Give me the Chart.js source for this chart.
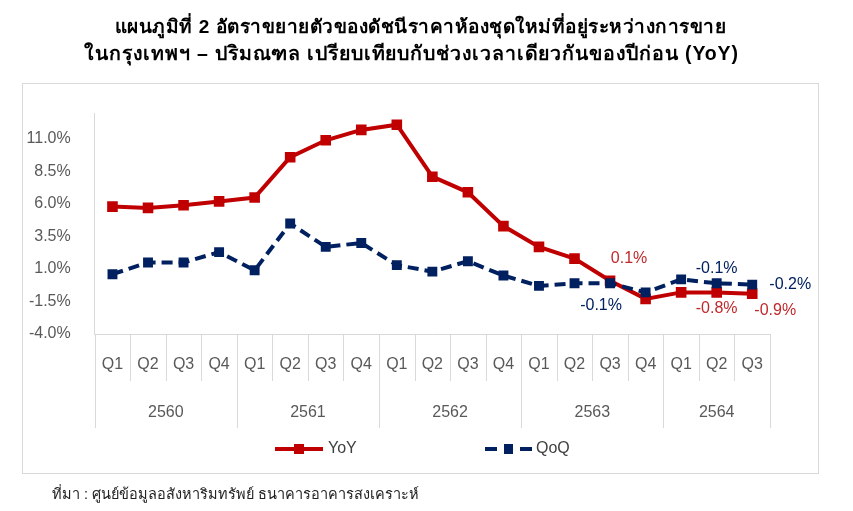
<!DOCTYPE html>
<html>
<head>
<meta charset="utf-8">
<script src="https://cdn.jsdelivr.net/npm/chart.js@4.4.1/dist/chart.umd.min.js"></script>
<style>
  html, body { margin: 0; padding: 0; background: #ffffff; }
  #wrap { position: relative; width: 853px; height: 511px; overflow: hidden; }
  #chartBox { position: absolute; left: 0; top: 0; width: 853px; height: 511px; }
  .tline { position: absolute; width: 853px; text-align: center; white-space: nowrap;
           font-family: "Liberation Sans", Arial, "Noto Sans", sans-serif; font-weight: bold;
           font-size: 19px; line-height: 26px; letter-spacing: 0.5px; color: #000; }
  #t1 { left: -6px; top: 14px; }
  #t2 { left: -15px; top: 40px; font-size: 19.5px; letter-spacing: 0.85px; }
  #source { position: absolute; left: 52px; top: 482px;
            font-family: "Liberation Sans", Arial, "Noto Sans", sans-serif;
            font-size: 14.5px; color: #222; }
</style>
</head>
<body>
<div id="wrap">
  <div id="chartBox"><canvas id="c"></canvas></div>
  <div id="t1" class="tline">แผนภูมิที่ 2 อัตราขยายตัวของดัชนีราคาห้องชุดใหม่ที่อยู่ระหว่างการขาย</div>
  <div id="t2" class="tline">ในกรุงเทพฯ – ปริมณฑล เปรียบเทียบกับช่วงเวลาเดียวกันของปีก่อน (YoY)</div>
  <div id="source">ที่มา : ศูนย์ข้อมูลอสังหาริมทรัพย์ ธนาคารอาคารสงเคราะห์</div>
</div>
<script>
const quarterLabels = ['Q1','Q2','Q3','Q4','Q1','Q2','Q3','Q4','Q1','Q2','Q3','Q4','Q1','Q2','Q3','Q4','Q1','Q2','Q3'];
const yearLabels = ['2560','2561','2562','2563','2564'];
const quartersPerYear = [4, 4, 4, 4, 3];
const yoyValues = [5.8, 5.7, 5.9, 6.2, 6.5, 9.6, 10.9, 11.7, 12.1, 8.1, 6.9, 4.3, 2.7, 1.8, 0.1, -1.3, -0.8, -0.8, -0.9];
const qoqValues = [0.6, 1.5, 1.5, 2.3, 0.9, 4.5, 2.7, 3.0, 1.3, 0.8, 1.6, 0.5, -0.3, -0.1, -0.1, -0.8, 0.2, -0.1, -0.2];
const yTickValues = [-4.0, -1.5, 1.0, 3.5, 6.0, 8.5, 11.0];
const yMin = -4.0;
const yMax = 13.0;

const FONT = '"Liberation Sans", Arial, "Noto Sans", sans-serif';
const RED = '#C00000';
const BLUE = '#002060';
const GRAY = '#595959';
const LINEGRAY = '#d9d9d9';

// label placement (style only): dataset index, point index, offset
const labelSpecs = [
  { ds: 1, i: 14, dx: 19, dy: -22, color: '#C0282B' },
  { ds: 0, i: 14, dx: -9, dy: 22, color: BLUE },
  { ds: 0, i: 17, dx: 0, dy: -15, color: BLUE },
  { ds: 0, i: 18, dx: 38, dy: 0, color: BLUE },
  { ds: 1, i: 17, dx: 0, dy: 16, color: '#C0282B' },
  { ds: 1, i: 18, dx: 23, dy: 17, color: '#C0282B' }
];

const decorPlugin = {
  id: 'decor',
  beforeDraw(chart) {
    const ctx = chart.ctx;
    ctx.save();
    ctx.strokeStyle = LINEGRAY;
    ctx.lineWidth = 1;
    ctx.strokeRect(22.5, 83.5, 796, 390);
    ctx.restore();
  },
  afterDraw(chart) {
    const ctx = chart.ctx;
    const xs = chart.scales.x;
    const area = chart.chartArea;
    const n = quarterLabels.length;
    const half = (xs.getPixelForValue(1) - xs.getPixelForValue(0)) / 2;
    const axisY = area.bottom;
    const qBottom = axisY + 47;
    const yBottom = axisY + 94;
    const boundaries = new Set([0]);
    let acc = 0;
    quartersPerYear.forEach(q => { acc += q; boundaries.add(acc); });
    ctx.save();
    ctx.strokeStyle = LINEGRAY;
    ctx.lineWidth = 1;
    for (let k = 0; k <= n; k++) {
      const px = Math.round(xs.getPixelForValue(k) - half) + 0.5;
      ctx.beginPath();
      ctx.moveTo(px, axisY);
      ctx.lineTo(px, boundaries.has(k) ? yBottom : qBottom);
      ctx.stroke();
    }
    ctx.fillStyle = GRAY;
    ctx.font = '16px ' + FONT;
    ctx.textAlign = 'center';
    ctx.textBaseline = 'middle';
    let start = 0;
    yearLabels.forEach((yl, j) => {
      const end = start + quartersPerYear[j] - 1;
      const cx = (xs.getPixelForValue(start) + xs.getPixelForValue(end)) / 2;
      ctx.fillText(yl, cx, axisY + 79);
      start = end + 1;
    });

    ctx.font = '16px ' + FONT;
    labelSpecs.forEach(s => {
      const meta = chart.getDatasetMeta(s.ds);
      const pt = meta.data[s.i];
      const v = chart.data.datasets[s.ds].data[s.i];
      ctx.fillStyle = s.color;
      ctx.fillText(v.toFixed(1) + '%', pt.x + s.dx, pt.y + s.dy);
    });

    const ly = 449;
    const yoy = chart.data.datasets[1];
    const qoq = chart.data.datasets[0];
    ctx.lineWidth = 4;
    ctx.strokeStyle = yoy.borderColor;
    ctx.beginPath(); ctx.moveTo(275, ly); ctx.lineTo(323, ly); ctx.stroke();
    ctx.fillStyle = yoy.borderColor;
    ctx.fillRect(294, ly - 5, 10, 10);
    ctx.strokeStyle = qoq.borderColor;
    ctx.setLineDash([12, 23]);
    ctx.beginPath(); ctx.moveTo(485, ly); ctx.lineTo(532, ly); ctx.stroke();
    ctx.setLineDash([]);
    ctx.fillStyle = qoq.borderColor;
    ctx.fillRect(504, ly - 5, 9, 10);
    ctx.fillStyle = '#404040';
    ctx.textAlign = 'left';
    ctx.font = '16px ' + FONT;
    ctx.fillText(yoy.label, 328, ly);
    ctx.fillText(qoq.label, 536, ly);
    ctx.restore();
  }
};

new Chart(document.getElementById('c'), {
  type: 'line',
  data: {
    labels: quarterLabels,
    datasets: [
      {
        label: 'QoQ',
        data: qoqValues,
        borderColor: BLUE,
        backgroundColor: BLUE,
        borderWidth: 4,
        borderDash: [11, 6],
        pointStyle: 'rect',
        pointRadius: 7,
        pointBorderWidth: 0,
        pointBackgroundColor: BLUE,
        tension: 0,
        order: 0
      },
      {
        label: 'YoY',
        data: yoyValues,
        borderColor: RED,
        backgroundColor: RED,
        borderWidth: 4,
        pointStyle: 'rect',
        pointRadius: 7.5,
        pointBorderWidth: 0,
        pointBackgroundColor: RED,
        tension: 0,
        order: 1
      }
    ]
  },
  options: {
    responsive: true,
    maintainAspectRatio: false,
    animation: false,
    layout: { padding: { left: 22, right: 83, top: 113, bottom: 117 } },
    plugins: {
      legend: { display: false },
      title: { display: false },
      tooltip: { enabled: false }
    },
    scales: {
      x: {
        type: 'category',
        offset: true,
        grid: { display: false, drawTicks: false },
        border: { display: true, color: LINEGRAY, width: 1 },
        ticks: { color: GRAY, font: { family: FONT, size: 16 }, padding: 21, maxRotation: 0, autoSkip: false },
        afterFit(scale) { scale.height = 60; }
      },
      y: {
        min: yMin,
        max: yMax,
        grid: { display: false, drawTicks: false },
        border: { display: true, color: LINEGRAY, width: 1 },
        ticks: {
          color: GRAY,
          font: { family: FONT, size: 16 },
          padding: 24,
          callback: v => Number(v).toFixed(1) + '%'
        },
        afterBuildTicks(scale) { scale.ticks = yTickValues.map(v => ({ value: v })); },
        afterFit(scale) { scale.width = 72.7; }
      }
    }
  },
  plugins: [decorPlugin]
});
</script>
</body>
</html>
